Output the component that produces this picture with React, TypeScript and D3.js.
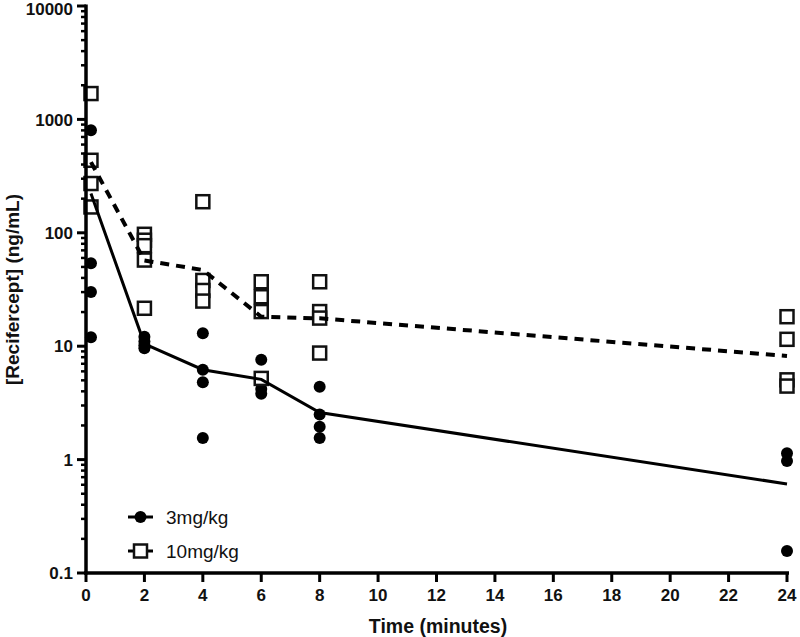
import React from "react";
import * as d3 from "d3";

const T0 = 0.17;
const meanTimes = [T0, 2, 4, 6, 8, 24];
const mean3 = [222, 10.5, 6.2, 5.1, 2.6, 0.61];
const mean10 = [420, 57, 47, 18.2, 17.6, 8.2];

const pts3: [number, number][] = [
  [T0, 802], [T0, 54], [T0, 30], [T0, 12],
  [2, 12.1], [2, 11], [2, 10.2], [2, 9.6],
  [4, 13.0], [4, 6.2], [4, 4.8], [4, 1.55],
  [6, 7.6], [6, 4.9], [6, 4.2], [6, 3.8],
  [8, 4.4], [8, 2.5], [8, 1.95], [8, 1.55],
  [24, 1.14], [24, 0.97], [24, 0.156],
];
const pts10: [number, number][] = [
  [T0, 1690], [T0, 436], [T0, 272], [T0, 169],
  [2, 97], [2, 86], [2, 77], [2, 57.5], [2, 21.6],
  [4, 188], [4, 38], [4, 31], [4, 25],
  [6, 37], [6, 27.3], [6, 20.2], [6, 5.2],
  [8, 37], [8, 20.2], [8, 17.7], [8, 8.7],
  [24, 18.2], [24, 11.5], [24, 5.05], [24, 4.45],
];

const xTicks = [0, 2, 4, 6, 8, 10, 12, 14, 16, 18, 20, 22, 24];
const yTicks = [0.1, 1, 10, 100, 1000, 10000];
const yTickLabels = ["0.1", "1", "10", "100", "1000", "10000"];
const seriesNames = ["3mg/kg", "10mg/kg"];

const FONT = "Liberation Sans, Arial, Helvetica, sans-serif";

export default function App() {
  const x = d3.scaleLinear().domain([0, 24]).range([86, 787]);
  const y = d3.scaleLog().domain([0.1, 10000]).range([573, 6]);
  const line = d3
    .line<number>()
    .x((_, i) => x(meanTimes[i]))
    .y((d) => y(d));

  const minor: number[] = [];
  for (let e = -1; e < 4; e++) {
    for (let m = 2; m <= 9; m++) minor.push(m * Math.pow(10, e));
  }
  const sq = 13;

  return (
    <svg
      width={800}
      height={637}
      style={{ position: "absolute", left: 0, top: 0, background: "#fff" }}
      fontFamily={FONT}
    >
      <rect x={0} y={0} width={800} height={637} fill="#fff" />
      {/* markers */}
      {pts3.map(([t, v], i) => (
        <circle key={"c" + i} cx={x(t)} cy={y(v)} r={6} fill="#000" />
      ))}
      {pts10.map(([t, v], i) => (
        <rect
          key={"s" + i}
          x={x(t) - sq / 2}
          y={y(v) - sq / 2}
          width={sq}
          height={sq}
          fill="#fff"
          stroke="#111"
          strokeWidth={2.5}
        />
      ))}
      {/* mean lines */}
      <path d={line(mean3) || ""} fill="none" stroke="#000" strokeWidth={3} />
      <path
        d={line(mean10) || ""}
        fill="none"
        stroke="#000"
        strokeWidth={4}
        strokeDasharray="9 7"
      />
      {/* y axis */}
      <line x1={86} x2={86} y1={y(10000) - 1.5} y2={y(0.1) + 1.5} stroke="#000" strokeWidth={3.5} />
      {minor.map((v, i) => (
        <line key={"mn" + i} x1={81} x2={86} y1={y(v)} y2={y(v)} stroke="#000" strokeWidth={2.5} />
      ))}
      {yTicks.map((v, i) => (
        <g key={"yt" + i}>
          <line x1={77} x2={86} y1={y(v)} y2={y(v)} stroke="#000" strokeWidth={3} />
          <text
            x={73}
            y={Math.max(y(v), 8.5)}
            dy="0.36em"
            textAnchor="end"
            fontSize={17}
            fontWeight="bold"
            fill="#111"
          >
            {yTickLabels[i]}
          </text>
        </g>
      ))}
      {/* x axis */}
      <line x1={84} x2={789} y1={573} y2={573} stroke="#000" strokeWidth={3.5} />
      {xTicks.map((t) => (
        <g key={"xt" + t}>
          <line x1={x(t)} x2={x(t)} y1={573} y2={582} stroke="#000" strokeWidth={3} />
          <text
            x={x(t)}
            y={601}
            textAnchor="middle"
            fontSize={17}
            fontWeight="bold"
            fill="#111"
          >
            {t}
          </text>
        </g>
      ))}
      <text x={438} y={633} textAnchor="middle" fontSize={19.5} fontWeight="bold" fill="#111">
        Time (minutes)
      </text>
      <text
        transform={`translate(19, ${(y(10000) + y(0.1)) / 2}) rotate(-90)`}
        textAnchor="middle"
        fontSize={19}
        fontWeight="bold"
        fill="#111"
      >
        [Recifercept] (ng/mL)
      </text>
      {/* legend */}
      <g>
        <line x1={128} x2={153} y1={517} y2={517} stroke="#000" strokeWidth={3} />
        <circle cx={140.5} cy={517} r={6} fill="#000" />
        <text x={166} y={517} dy="0.36em" fontSize={19} fill="#111">
          {seriesNames[0]}
        </text>
        <line x1={128} x2={153} y1={551} y2={551} stroke="#000" strokeWidth={3} />
        <rect
          x={140.5 - sq / 2}
          y={551 - sq / 2}
          width={sq}
          height={sq}
          fill="#fff"
          stroke="#111"
          strokeWidth={2.5}
        />
        <text x={166} y={551} dy="0.36em" fontSize={19} fill="#111">
          {seriesNames[1]}
        </text>
      </g>
    </svg>
  );
}
